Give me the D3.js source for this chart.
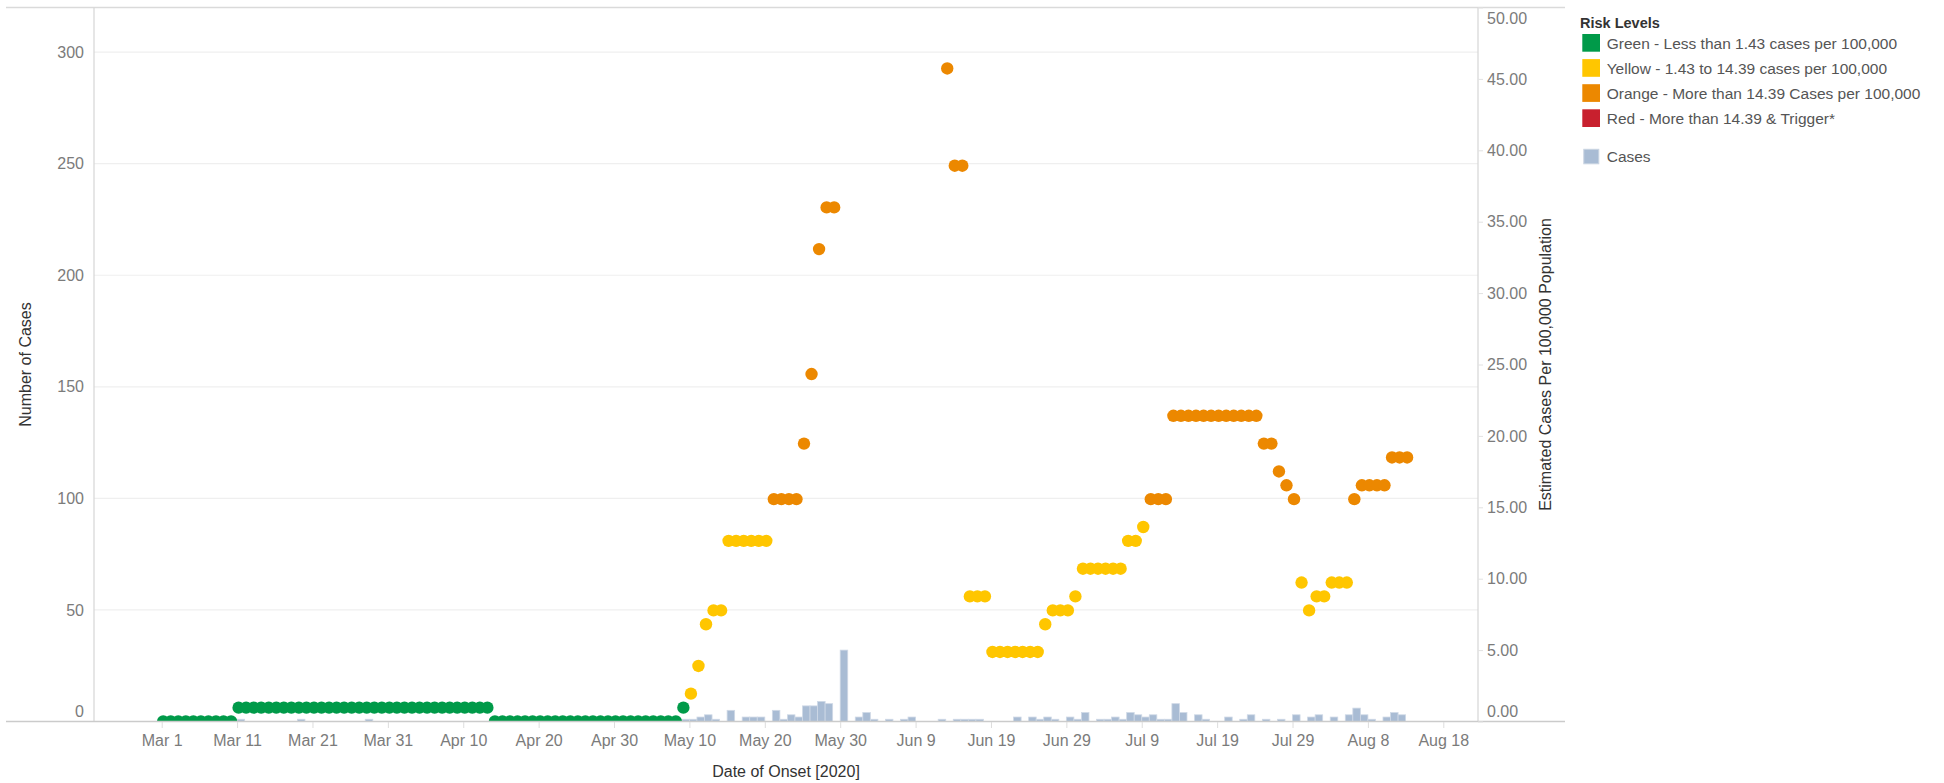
<!DOCTYPE html>
<html><head><meta charset="utf-8">
<script src="https://cdn.jsdelivr.net/npm/d3@7/dist/d3.min.js"></script>
<style>
html,body{margin:0;padding:0;background:#fff;}
svg{display:block;font-family:"Liberation Sans",Arial,sans-serif;}
</style></head><body>
<svg id="chart" width="1944" height="783"></svg>
<script>
// ---------------- DATA ----------------
const startDate = "2020-03-01";   // first day of both daily series

// Daily number of cases (left axis), Mar 1 .. Aug 12
const caseCounts = [
  0,0,0,0,0,0,0,0,0,0,          // Mar 1-10
  1,0,0,0,0,0,0,0,1,0,          // Mar 11-20
  0,0,0,0,0,0,0,1,0,0,0,        // Mar 21-31
  0,0,0,0,0,0,0,0,0,0,          // Apr 1-10
  0,0,0,0,0,0,0,0,0,0,          // Apr 11-20
  0,0,0,0,0,0,0,0,0,0,          // Apr 21-30
  0,0,0,0,0,0,0,0,1,1,          // May 1-10
  2,3,1,0,5,0,2,2,2,0,          // May 11-20
  5,1,3,2,7,7,9,8,0,32,0,       // May 21-31
  2,4,1,0,1,0,1,2,0,0,          // Jun 1-10
  0,1,0,1,1,1,1,0,0,0,          // Jun 11-20
  0,2,0,2,1,2,1,0,2,1,          // Jun 21-30
  4,0,1,1,2,1,4,3,2,3,          // Jul 1-10
  1,1,8,4,0,3,1,0,0,2,          // Jul 11-20
  0,1,3,0,1,0,1,0,3,0,2,        // Jul 21-31
  3,0,2,0,3,6,3,1,0,2,          // Aug 1-10
  4,3                           // Aug 11-12
];

// Estimated cases per 100,000 population (right axis), Mar 1 .. Aug 13 (null = no mark)
const rateValues = [
  0,0,0,0,0,0,0,0,0,0,                                   // Mar 1-10
  0.97,0.97,0.97,0.97,0.97,0.97,0.97,0.97,0.97,0.97,     // Mar 11-20
  0.97,0.97,0.97,0.97,0.97,0.97,0.97,0.97,0.97,0.97,0.97,// Mar 21-31
  0.97,0.97,0.97,0.97,0.97,0.97,0.97,0.97,0.97,0.97,     // Apr 1-10
  0.97,0.97,0.97,0,0,0,0,0,0,0,                          // Apr 11-20
  0,0,0,0,0,0,0,0,0,0,                                   // Apr 21-30
  0,0,0,0,0,0,0,0,0.97,1.95,                             // May 1-10
  3.89,6.81,7.78,7.78,12.65,12.65,12.65,12.65,12.65,12.65, // May 11-20
  15.57,15.57,15.57,15.57,19.46,24.33,33.08,36.00,36.00,null,null, // May 21-31
  null,null,null,null,null,null,null,null,null,null,     // Jun 1-10
  null,null,45.73,38.92,38.92,8.76,8.76,8.76,4.87,4.87,  // Jun 11-20
  4.87,4.87,4.87,4.87,4.87,6.81,7.78,7.78,7.78,8.76,     // Jun 21-30
  10.70,10.70,10.70,10.70,10.70,10.70,12.65,12.65,13.62,15.57, // Jul 1-10
  15.57,15.57,21.41,21.41,21.41,21.41,21.41,21.41,21.41,21.41, // Jul 11-20
  21.41,21.41,21.41,21.41,19.46,19.46,17.51,16.54,15.57,9.73,7.78, // Jul 21-31
  8.76,8.76,9.73,9.73,9.73,15.57,16.54,16.54,16.54,16.54, // Aug 1-10
  18.49,18.49,18.49                                      // Aug 11-13
];

const xTickDates  = ["2020-03-01","2020-03-11","2020-03-21","2020-03-31","2020-04-10","2020-04-20","2020-04-30","2020-05-10","2020-05-20","2020-05-30","2020-06-09","2020-06-19","2020-06-29","2020-07-09","2020-07-19","2020-07-29","2020-08-08","2020-08-18"];
const xTickLabels = ["Mar 1","Mar 11","Mar 21","Mar 31","Apr 10","Apr 20","Apr 30","May 10","May 20","May 30","Jun 9","Jun 19","Jun 29","Jul 9","Jul 19","Jul 29","Aug 8","Aug 18"];
const leftTicks  = [0,50,100,150,200,250,300];
const rightTicks = [0,5,10,15,20,25,30,35,40,45,50];

const riskLabels = ["Green - Less than 1.43 cases per 100,000",
                    "Yellow - 1.43 to 14.39 cases per 100,000",
                    "Orange - More than 14.39 Cases per 100,000",
                    "Red - More than 14.39 & Trigger*"];
const riskColors = ["#009a49","#ffc600","#ec8800","#c8202e"];
const riskThresholds = [1.43, 14.39];
const casesLabel = "Cases";
const casesColor = "#a9bcd4";

// ---------------- LAYOUT ----------------
const svg = d3.select("#chart");
const pane = {left:94, right:1478, top:7.5, bottom:721.5};
const parse = d3.utcParse("%Y-%m-%d");
const day0 = parse(startDate);
const dayOf = i => d3.utcDay.offset(day0, i);

const x = d3.scaleUtc().domain([parse("2020-03-01"), parse("2020-08-18")]).range([161.7, 1443.3]);
const yL = d3.scaleLinear().domain([0,320]).range([pane.bottom, pane.top]);
const yR = d3.scaleLinear().domain([0,50]).range([pane.bottom, pane.top]);

const tickColor = "#7b7b7b";
const titleColor = "#333";

svg.append("defs").append("clipPath").attr("id","paneClip")
  .append("rect").attr("x",pane.left).attr("y",pane.top)
  .attr("width",pane.right-pane.left).attr("height",pane.bottom-pane.top);

// gridlines (left axis)
svg.append("g").selectAll("line").data(leftTicks.filter(d=>d>0)).join("line")
  .attr("x1",pane.left).attr("x2",pane.right)
  .attr("y1",d=>yL(d)).attr("y2",d=>yL(d))
  .attr("stroke","#efefef").attr("stroke-width",1.2);

// frame lines
svg.append("line").attr("x1",6).attr("x2",1565).attr("y1",pane.top).attr("y2",pane.top)
  .attr("stroke","#dadada").attr("stroke-width",1.3);
svg.append("line").attr("x1",pane.left).attr("x2",pane.left).attr("y1",pane.top).attr("y2",pane.bottom)
  .attr("stroke","#d6d6d6").attr("stroke-width",1.2);
svg.append("line").attr("x1",pane.right).attr("x2",pane.right).attr("y1",pane.top).attr("y2",pane.bottom)
  .attr("stroke","#d6d6d6").attr("stroke-width",1.2);

// bars (cases)
const plot = svg.append("g").attr("clip-path","url(#paneClip)");
const barData = caseCounts.map((v,i)=>({d:dayOf(i), v})).filter(o=>o.v>0);
plot.append("g").selectAll("rect").data(barData).join("rect")
  .attr("x",o=>x(o.d))
  .attr("width",o=>x(d3.utcDay.offset(o.d,1))-x(o.d))
  .attr("y",o=>yL(o.v))
  .attr("height",o=>yL(0)-yL(o.v))
  .attr("fill",casesColor).attr("stroke","#cfd9e6").attr("stroke-width",0.8);

// dots (rates)
const level = v => v < riskThresholds[0] ? 0 : (v <= riskThresholds[1] ? 1 : 2);
const dotData = rateValues.map((v,i)=>({d:dayOf(i), v})).filter(o=>o.v!==null);
plot.append("g").selectAll("circle").data(dotData).join("circle")
  .attr("cx",o=>x(o.d)+1.5)
  .attr("cy",o=>yR(o.v))
  .attr("r",6.2)
  .attr("fill",o=>riskColors[level(o.v)]);

// baseline
svg.append("line").attr("x1",6).attr("x2",1565).attr("y1",pane.bottom).attr("y2",pane.bottom)
  .attr("stroke","#cbcbcb").attr("stroke-width",1.4);

// x axis
const xAxis = d3.axisBottom(x).tickValues(xTickDates.map(parse))
  .tickFormat((d,i)=>xTickLabels[i]).tickSize(6).tickPadding(7);
const gx = svg.append("g").attr("transform",`translate(0,${pane.bottom+0.5})`).call(xAxis);
gx.select(".domain").remove();
gx.selectAll(".tick line").attr("stroke","#dddddd");
gx.selectAll(".tick text").attr("fill",tickColor).attr("font-size",16)
  .attr("font-family","Liberation Sans, Arial, sans-serif");

// left axis
const yAxisL = d3.axisLeft(yL).tickValues(leftTicks).tickFormat(d3.format("d")).tickSize(0).tickPadding(10);
const gl = svg.append("g").attr("transform",`translate(${pane.left},0)`).call(yAxisL);
gl.select(".domain").remove();
gl.selectAll(".tick text").attr("fill",tickColor).attr("font-size",16)
  .attr("font-family","Liberation Sans, Arial, sans-serif")
  .attr("dy",(d)=> d===0 ? "-0.3em" : "0.32em");

// right axis
const yAxisR = d3.axisRight(yR).tickValues(rightTicks).tickFormat(d3.format(".2f")).tickSize(5).tickPadding(4);
const gr = svg.append("g").attr("transform",`translate(${pane.right},0)`).call(yAxisR);
gr.select(".domain").remove();
gr.selectAll(".tick line").attr("stroke","#e2e2e2");
gr.selectAll(".tick text").attr("fill",tickColor).attr("font-size",16)
  .attr("font-family","Liberation Sans, Arial, sans-serif")
  .attr("dy",(d)=> d===0 ? "-0.32em" : (d===50 ? "1.0em" : "0.32em"));

// axis titles
svg.append("text").attr("transform",`translate(31,${(pane.top+pane.bottom)/2}) rotate(-90)`)
  .attr("text-anchor","middle").attr("fill",titleColor).attr("font-size",16)
  .text("Number of Cases");
svg.append("text").attr("transform",`translate(1551,${(pane.top+pane.bottom)/2}) rotate(-90)`)
  .attr("text-anchor","middle").attr("fill",titleColor).attr("font-size",16)
  .text("Estimated Cases Per 100,000 Population");
svg.append("text").attr("x",(pane.left+pane.right)/2).attr("y",777)
  .attr("text-anchor","middle").attr("fill",titleColor).attr("font-size",16)
  .text("Date of Onset [2020]");

// legend
const lg = svg.append("g");
lg.append("text").attr("x",1580).attr("y",22.5).attr("dy","0.35em")
  .attr("fill",titleColor).attr("font-size",14.5).attr("font-weight","bold").text("Risk Levels");
riskLabels.forEach((lab,i)=>{
  lg.append("rect").attr("x",1582.3).attr("y",34+i*25.1).attr("width",17.7).attr("height",17.7)
    .attr("fill",riskColors[i]);
  lg.append("text").attr("x",1606.7).attr("y",43.2+i*25.1).attr("dy","0.35em")
    .attr("fill","#555").attr("font-size",15.5).text(lab);
});
lg.append("rect").attr("x",1583.8).attr("y",149.3).attr("width",15).attr("height",14.5)
  .attr("fill",casesColor).attr("stroke","#c9d4e2").attr("stroke-width",1);
lg.append("text").attr("x",1606.7).attr("y",156.6).attr("dy","0.35em")
  .attr("fill","#555").attr("font-size",15.5).text(casesLabel);
</script>
</body></html>
